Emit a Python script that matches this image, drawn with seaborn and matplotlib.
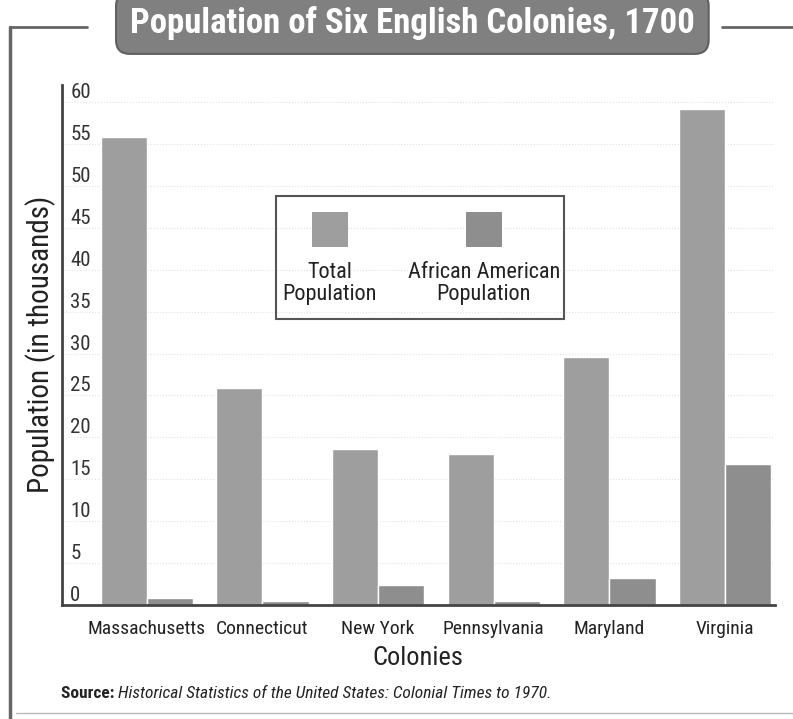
import numpy as np
import pandas as pd
import matplotlib
matplotlib.use("Agg")
import matplotlib.pyplot as plt
import seaborn as sns
from matplotlib.patches import Rectangle
from matplotlib.lines import Line2D

# data (thousands)
colonies = ['Massachusetts', 'Connecticut', 'New York', 'Pennsylvania', 'Maryland', 'Virginia']
total_pop = [55.9, 25.9, 18.6, 18.0, 29.6, 59.2]
african_pop = [0.8, 0.45, 2.3, 0.43, 3.2, 16.8]
groups = ['Total Population', 'African American Population']
yticks = [0, 5, 10, 15, 20, 25, 30, 35, 40, 45, 50, 55, 60]

df = pd.DataFrame({
    'Colony': colonies * 2,
    'Population': total_pop + african_pop,
    'Group': [groups[0]] * len(colonies) + [groups[1]] * len(colonies),
})

sns.set_style("white")
plt.rcParams['font.family'] = ['Roboto Condensed', 'Roboto', 'DejaVu Sans']

fig = plt.figure(figsize=(7.93, 7.19), dpi=100)
ax = fig.add_axes([0.078, 0.159, 0.899, 0.723])

bar_colors = ['#9e9e9e', '#8e8e8e']
sns.barplot(data=df, x='Colony', y='Population', hue='Group', palette=bar_colors,
            width=0.8, saturation=1, ax=ax, legend=False)

ax.set_xlim(-0.735, 5.43)
ax.set_ylim(0, 62.1)
ax.set_yticks(yticks)
ax.set_yticklabels([str(t) for t in yticks], fontsize=15, color='#333333')
for lab in ax.get_yticklabels():
    lab.set_horizontalalignment('left')
    lab.set_verticalalignment('bottom')
ax.tick_params(axis='y', length=0, pad=-6)
ax.tick_params(axis='x', length=0, pad=11, labelsize=14, labelcolor='#222222')

for t in yticks[1:]:
    ax.axhline(t, color='#e2e2e2', lw=0.8, ls=':', zorder=0)

for side in ['top', 'right']:
    ax.spines[side].set_visible(False)
for side in ['left', 'bottom']:
    ax.spines[side].set_color('#444444')
    ax.spines[side].set_linewidth(2)

ax.set_xlabel('Colonies', fontsize=19, color='#222222', labelpad=6)
ax.set_ylabel('Population (in thousands)', fontsize=21, color='#222222')
ax.yaxis.set_label_coords(-0.008, 0.5)

# legend box: swatch above two-line label
ax.add_patch(Rectangle((0.3, 0.55), 0.405, 0.237, transform=ax.transAxes,
                       fill=False, ec='#555555', lw=1.5, zorder=5))
for xc, col, lab in [(0.376, bar_colors[0], 'Total\nPopulation'),
                     (0.592, bar_colors[1], 'African American\nPopulation')]:
    ax.add_patch(Rectangle((xc - 0.025, 0.688), 0.05, 0.068, transform=ax.transAxes,
                           fc=col, ec='none', zorder=6))
    ax.text(xc, 0.66, lab, transform=ax.transAxes, ha='center', va='top',
            fontsize=16, color='#222222', linespacing=1.1, zorder=6)

# title banner and page frame
fig.text(0.52, 0.968, 'Population of Six English Colonies, 1700', ha='center', va='center',
         fontsize=25, fontweight='bold', color='white',
         bbox=dict(boxstyle='round,pad=0.4', fc='#808080', ec='#606060', lw=1.5))
fig.add_artist(Line2D([0.013, 0.11], [0.962, 0.962], color='#666666', lw=2))
fig.add_artist(Line2D([0.91, 1.0], [0.962, 0.962], color='#666666', lw=2))
fig.add_artist(Line2D([0.013, 0.013], [0.962, 0.0], color='#666666', lw=2.5))
fig.add_artist(Line2D([0.02, 1.0], [0.008, 0.008], color='#bbbbbb', lw=1))

src = fig.text(0.077, 0.036, 'Source: ', fontsize=12.5, fontweight='bold', color='#222222',
               ha='left', va='center')
fig.canvas.draw()
bb = src.get_window_extent(fig.canvas.get_renderer())
fig.text(bb.x1 / fig.bbox.width, 0.036,
         'Historical Statistics of the United States: Colonial Times to 1970.',
         fontsize=12.5, style='italic', color='#222222', ha='left', va='center')

fig.savefig('out.png', dpi=100)
